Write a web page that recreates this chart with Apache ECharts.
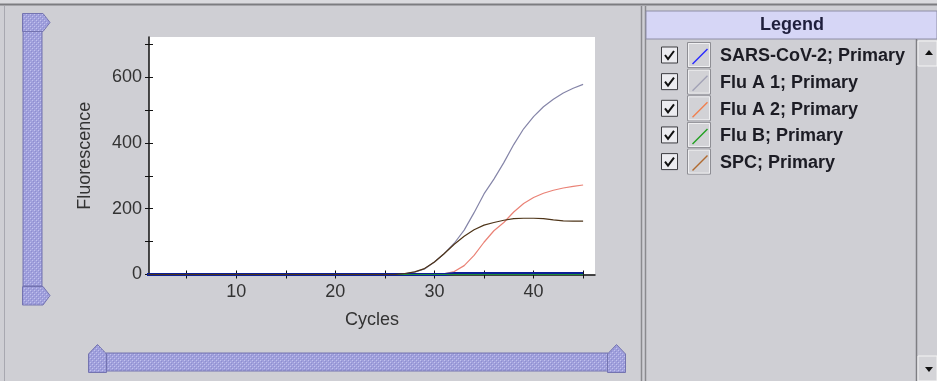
<!DOCTYPE html>
<html><head><meta charset="utf-8">
<script src="https://cdn.jsdelivr.net/npm/echarts@6/dist/echarts.min.js"></script>
<style>html,body{margin:0;padding:0;background:#cfcfd4;overflow:hidden}#c{width:937px;height:381px;}</style>
</head><body><div id="c"></div>
<script>
// ---- data ----
const cycles = [1,2,3,4,5,6,7,8,9,10,11,12,13,14,15,16,17,18,19,20,21,22,23,24,25,26,27,28,29,30,31,32,33,34,35,36,37,38,39,40,41,42,43,44,45];
const seriesNames = ['SARS-CoV-2; Primary','Flu A 1; Primary','Flu A 2; Primary','Flu B; Primary','SPC; Primary'];
const sarsCov2 = [0,0,0,0,0,0,0,0,0,0,0,0,0,0,0,0,0,0,0,0,0,0,0,0,0,0,0,0,0,0,0,3,3,3,3,3,3,3,3,3,3,3,3,3,3];
const fluA1   = [0,0,0,0,0,0,0,0,0,0,0,0,0,0,0,0,0,0,0,0,0,0,0,0,0,0,2,7,17,38,64,95,135,188,245,290,340,395,443,480,510,533,552,566,578];
const fluA2   = [0,0,0,0,0,0,0,0,0,0,0,0,0,0,0,0,0,0,0,0,0,0,0,0,0,0,0,0,0,0,2,9,27,58,98,133,158,190,216,234,247,256,263,268,272];
const fluB    = [0,0,0,0,0,0,0,0,0,0,0,0,0,0,0,0,0,0,0,0,0,0,0,0,0,0,0,0,0,0,0,0,0,0,0,0,0,0,0,0,0,0,0,0,0];
const spc     = [0,0,0,0,0,0,0,0,0,0,0,0,0,0,0,0,0,0,0,0,0,0,0,0,0,0,3,8,18,38,64,92,116,136,150,158,165,170,171,171,170,166,163,162,162];
const xTickValues = [5,10,15,20,25,30,35,40,45];
const xLabelValues = [10,20,30,40];
const yTickValues = [0,100,200,300,400,500,600,700];
const yLabelValues = [0,200,400,600];

// ---- styling ----
const FONT = '"Liberation Sans", Arial, sans-serif';
const BG = '#cfcfd4';
const lineColors   = ['#0c1f96','#8585a8','#ea8276','#1f8a3a','#4e3418'];
const legendColors = ['#2a2aff','#a2a2b6','#f08050','#22a022','#b06a30'];
const widths = [3,1.2,1.2,1.2,1.2];
const zs = [3,1,2,4,5];
const seriesData = [sarsCov2, fluA1, fluA2, fluB, spc];

// dotted lavender pattern for scrollbars
const pc = document.createElement('canvas'); pc.width = 4; pc.height = 4;
const px = pc.getContext('2d');
px.fillStyle = '#a0a0dc'; px.fillRect(0,0,4,4);
px.fillStyle = '#c2c2ee'; px.fillRect(0,0,1,1); px.fillRect(2,2,1,1);
px.fillStyle = '#8e8ed0'; px.fillRect(1,1,1,1); px.fillRect(3,3,1,1);
const pat = {image: pc, repeat: 'repeat'};
const HB = '#7474b0';

const g = [];
// frame
g.push({type:'rect', shape:{x:0,y:0,width:937,height:4}, style:{fill:'#dadade'}});
g.push({type:'line', shape:{x1:0,y1:4.5,x2:937,y2:4.5}, style:{stroke:'#7c7c80',lineWidth:2}});
g.push({type:'line', shape:{x1:4.5,y1:6,x2:4.5,y2:381}, style:{stroke:'#a8a8b0',lineWidth:1}});
g.push({type:'line', shape:{x1:641.5,y1:6,x2:641.5,y2:381}, style:{stroke:'#8a8a8e',lineWidth:1.5}});
g.push({type:'line', shape:{x1:645.5,y1:6,x2:645.5,y2:381}, style:{stroke:'#8a8a8e',lineWidth:1.5}});
// vertical scrollbar
g.push({type:'rect', shape:{x:23,y:31,width:19,height:255}, style:{fill:pat, stroke:HB, lineWidth:1}});
g.push({type:'polygon', shape:{points:[[22.5,13.5],[43,13.5],[50,22.5],[43,31.5],[22.5,31.5]]}, style:{fill:pat, stroke:HB, lineWidth:1}});
g.push({type:'polygon', shape:{points:[[22.5,286.5],[43,286.5],[50,295.5],[43,305],[22.5,305]]}, style:{fill:pat, stroke:HB, lineWidth:1}});
// horizontal scrollbar
g.push({type:'rect', shape:{x:106,y:353,width:502,height:18}, style:{fill:pat, stroke:HB, lineWidth:1}});
g.push({type:'polygon', shape:{points:[[88.5,354],[97.5,344.5],[106.5,354],[106.5,372.5],[88.5,372.5]]}, style:{fill:pat, stroke:HB, lineWidth:1}});
g.push({type:'polygon', shape:{points:[[607.5,354],[616.5,344.5],[625.5,354],[625.5,372.5],[607.5,372.5]]}, style:{fill:pat, stroke:HB, lineWidth:1}});
// legend panel
g.push({type:'rect', shape:{x:646,y:11,width:291,height:28}, style:{fill:'#d6d6f6', stroke:'#8e8ea6', lineWidth:1}});
g.push({type:'text', x:792, y:25, style:{text:'Legend', font:'bold 18px '+FONT, fill:'#1e1e3c', align:'center', verticalAlign:'middle'}});
g.push({type:'line', shape:{x1:916.5,y1:39,x2:916.5,y2:381}, style:{stroke:'#7e7e82',lineWidth:1.5}});
g.push({type:'rect', shape:{x:918,y:41,width:19,height:25}, style:{fill:'#d4d4d8', stroke:'#f4f4f4', lineWidth:1}});
g.push({type:'polygon', shape:{points:[[925,55],[933,55],[929,50]]}, style:{fill:'#111'}});
g.push({type:'rect', shape:{x:918,y:356,width:19,height:25}, style:{fill:'#d4d4d8', stroke:'#f4f4f4', lineWidth:1}});
g.push({type:'polygon', shape:{points:[[925,367],[933,367],[929,372]]}, style:{fill:'#111'}});
seriesNames.forEach((n,i) => {
  const y = 55 + i*26.65;
  g.push({type:'rect', shape:{x:661.5,y:y-8,width:16,height:16}, style:{fill:'#ececf0', stroke:'#3c3c40', lineWidth:1}});
  g.push({type:'polyline', shape:{points:[[665,y],[668,y+4],[674,y-4]]}, style:{stroke:'#111', lineWidth:2, fill:null}});
  g.push({type:'rect', shape:{x:687.5,y:y-12.5,width:23,height:25}, style:{fill:'#d2d2d6', stroke:'#8e8e94', lineWidth:1}});
  g.push({type:'rect', shape:{x:688.5,y:y-11.5,width:21,height:23}, style:{fill:null, stroke:'#f0f0f2', lineWidth:1}});
});

const series = seriesNames.map((n,i) => ({
  type:'line', name:n,
  data: cycles.map((c,k) => [c, seriesData[i][k]]),
  showSymbol:false, symbol:'none',
  lineStyle:{color:lineColors[i], width:widths[i]},
  itemStyle:{color:legendColors[i]},
  emphasis:{disabled:true}, z: zs[i], animation:false
}));

const axisX = (inside) => ({type:'value', min:1.2, max:46.2,
    axisLine:{show:!inside, onZero:false, lineStyle:{color:'#111', width:1.5}},
    axisTick:{customValues:xTickValues, length:4, inside:inside, lineStyle:{color:'#111'}},
    axisLabel:inside ? {show:false} : {customValues:xLabelValues, fontSize:18, color:'#333', margin:9, fontFamily:FONT},
    splitLine:{show:false}, position:'bottom',
    name: inside ? '' : 'Cycles', nameLocation:'middle', nameGap:37,
    nameTextStyle:{fontSize:18, color:'#333', fontFamily:FONT}});
const axisY = (inside) => ({type:'value', min:0, max:722, position:'left', offset:0,
    axisLine:{show:!inside, lineStyle:{color:'#111', width:1.5}},
    axisTick:{show:true, customValues:yTickValues, length:4, inside:inside, lineStyle:{color:'#111'}},
    axisLabel:inside ? {show:false} : {customValues:yLabelValues, fontSize:18, color:'#333', margin:7, fontFamily:FONT},
    splitLine:{show:false},
    name: inside ? '' : 'Fluorescence', nameLocation:'middle', nameGap:55,
    nameTextStyle:{fontSize:18, color:'#333', fontFamily:FONT}});

const chart = echarts.init(document.getElementById('c'), null, {renderer:'canvas'});
chart.setOption({
  backgroundColor: BG,
  animation:false,
  grid:{left:149, right:342, top:37, bottom:106.5, show:true, backgroundColor:'#ffffff', borderWidth:0},
  xAxis:[axisX(false), axisX(true)],
  yAxis:[axisY(false), axisY(true)],
  legend:{orient:'vertical', left:687, top:41.5, itemWidth:16, itemHeight:16, itemGap:6.65,
    icon:'path://M0,15 L15,0 L16,1 L1,16 Z', selectedMode:false,
    itemStyle:{borderWidth:0},
    textStyle:{fontFamily:FONT, fontSize:18, fontWeight:'bold', color:'#1c1c24', lineHeight:20, padding:[0,0,0,7]},
    data:seriesNames},
  graphic:{elements:g},
  series: series
});
</script>
</body></html>
